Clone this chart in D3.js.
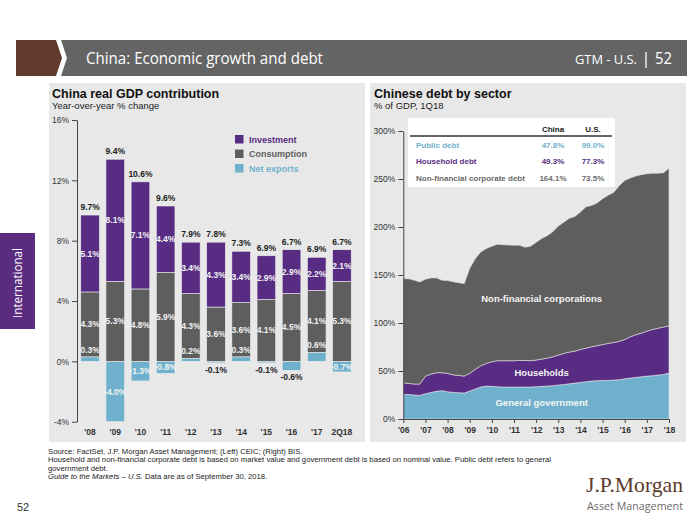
<!DOCTYPE html>
<html><head><meta charset="utf-8">
<script src="https://cdn.jsdelivr.net/npm/d3@7"></script>
<style>body{margin:0;background:#fff}svg{display:block}</style>
</head><body><svg id="c" width="700" height="525"></svg>
<script>
// ---------- Left chart data ----------
const gdpYears = ["'08","'09","'10","'11","'12","'13","'14","'15","'16","'17","2Q18"];
const investment = [5.1,8.1,7.1,4.4,3.4,4.3,3.4,2.9,2.9,2.2,2.1];
const consumption = [4.3,5.3,4.8,5.9,4.3,3.6,3.6,4.1,4.5,4.1,5.3];
const netExports = [0.3,-4.0,-1.3,-0.8,0.2,-0.1,0.3,-0.1,-0.6,0.6,-0.7];
const gdpTotals = ["9.7%","9.4%","10.6%","9.6%","7.9%","7.8%","7.3%","6.9%","6.7%","6.9%","6.7%"];
const gdpTicks = [-4,0,4,8,12,16];
const legendNames = ["Investment","Consumption","Net exports"];

// ---------- Right chart data (quarterly, 1Q06 - 1Q18, % of GDP) ----------
const debtStartYear = 2006;
const govDebt = [25.6,25.6,25.0,24.6,26.3,27.7,28.8,29.5,28.4,27.7,27.4,27.0,29.1,31.2,33.3,34.3,34.0,33.6,33.3,33.3,33.3,33.3,33.3,33.3,33.6,34.0,34.3,34.7,35.4,36.0,36.7,37.4,38.1,38.8,39.5,39.9,40.2,40.2,40.6,40.9,41.9,42.6,43.3,44.0,44.7,45.0,45.8,46.4,47.8];
const householdDebt = [12.2,11.4,11.4,11.8,18.2,19.1,19.4,18.7,19.1,18.3,18.0,17.7,18.4,20.4,22.2,23.6,25.6,27.1,27.4,27.4,27.4,27.7,27.7,27.4,27.8,28.4,29.1,30.1,31.2,32.3,33.0,33.3,34.3,35.0,35.7,36.4,37.4,38.5,39.1,39.9,40.9,43.0,44.4,45.4,46.8,48.2,48.8,49.3,49.3];
const corpDebt = [108.5,109.0,108.1,106.4,101.1,100.2,98.8,96.3,96.7,97.0,96.6,96.3,109.5,115.4,118.5,119.6,120.4,121.3,120.9,120.6,120.3,120.0,118.0,119.3,122.6,125.6,127.6,130.2,134.4,136.7,139.3,140.3,143.2,147.2,147.3,148.7,151.9,154.3,156.3,162.2,165.7,165.4,165.3,165.1,164.0,162.8,161.4,160.8,164.1];
const debtTicks = [0,50,100,150,200,250,300];
const debtYearTicks = [2006,2007,2008,2009,2010,2011,2012,2013,2014,2015,2016,2017,2018];
const sectorNames = ["General government","Households","Non-financial corporations"];
const tableRows = ["Public debt","Household debt","Non-financial corporate debt"];
const tableChina = ["47.8%","49.3%","164.1%"];
const tableUS = ["99.0%","77.3%","73.5%"];

const PURPLE = "#582c83", GRAY = "#5e5e5e", BLUE = "#6fb1cc", PANEL = "#e8e8e8";
const F = "'Liberation Sans', Arial, sans-serif";
const OS = "'Open Sans', 'Noto Sans', sans-serif";
const svg = d3.select("#c");

// ---------- Header ----------
svg.append("polygon").attr("points","16,40 56,40 62,58 56,76 16,76").attr("fill","#603b2b");
svg.append("polygon").attr("points","61,40 687,40 687,76 61,76 67,58").attr("fill","#646464");
svg.append("text").attr("x",86).attr("y",64).attr("fill","#fff").attr("font-family",OS).attr("font-size",17)
  .attr("textLength",237).attr("lengthAdjust","spacingAndGlyphs").text("China: Economic growth and debt");
svg.append("text").attr("x",575).attr("y",64).attr("fill","#fff").attr("font-family",OS).attr("font-size",12.5)
  .attr("textLength",62).attr("lengthAdjust","spacingAndGlyphs").text("GTM - U.S.");
svg.append("line").attr("x1",646).attr("x2",646).attr("y1",52).attr("y2",68).attr("stroke","#fff").attr("stroke-width",1.3);
svg.append("text").attr("x",655).attr("y",64).attr("fill","#fff").attr("font-family",OS).attr("font-size",16)
  .attr("textLength",17).attr("lengthAdjust","spacingAndGlyphs").text("52");

// Side tab
svg.append("rect").attr("x",0).attr("y",233).attr("width",35).attr("height",96).attr("fill","#5b2b80");
svg.append("text").attr("transform","translate(22,283) rotate(-90)").attr("text-anchor","middle")
  .attr("fill","#fff").attr("font-family",OS).attr("font-size",13).attr("textLength",70)
  .attr("lengthAdjust","spacingAndGlyphs").text("International");

// Panels
svg.append("rect").attr("x",49).attr("y",83).attr("width",316).attr("height",359).attr("fill",PANEL);
svg.append("rect").attr("x",370).attr("y",83).attr("width",316).attr("height",359).attr("fill",PANEL);

// ---------- Left chart ----------
svg.append("text").attr("x",52).attr("y",98).attr("font-family",F).attr("font-weight","bold").attr("font-size",12.5)
  .attr("fill","#111").text("China real GDP contribution");
svg.append("text").attr("x",52).attr("y",109).attr("font-family",F).attr("font-size",9.5)
  .attr("fill","#222").text("Year-over-year % change");

const yL = d3.scaleLinear().domain([-4,16]).range([421.7,120]);
const xL = d3.scaleBand().domain(gdpYears).range([77,355]).paddingInner(0.26).paddingOuter(0.15);
const bw = xL.bandwidth();

const gL = svg.append("g");
gdpYears.forEach((yr,i)=>{
  const ne = netExports[i], c = consumption[i], inv = investment[i];
  const base = Math.max(0,ne);
  const x = xL(yr);
  const segs = [
    {lo:Math.min(0,ne), hi:Math.max(0,ne), col:BLUE},
    {lo:base, hi:base+c, col:GRAY},
    {lo:base+c, hi:base+c+inv, col:PURPLE}
  ];
  segs.forEach(s=>{
    gL.append("rect").attr("x",x).attr("width",bw).attr("y",yL(s.hi)).attr("height",yL(s.lo)-yL(s.hi))
      .attr("fill",s.col).attr("stroke","#ededed").attr("stroke-width",0.6);
  });
  const lab = (txt,y,col)=>gL.append("text").attr("x",x+bw/2).attr("y",y).attr("text-anchor","middle")
    .attr("font-family",F).attr("font-weight","bold").attr("font-size",8.5).attr("fill",col).text(txt);
  const fmt = v=>v.toFixed(1)+"%";
  lab(fmt(inv), yL(base+c+inv/2)+3, "#f2f2f2");
  lab(fmt(c), yL(base+c/2)+3, "#f2f2f2");
  if (ne>0) lab(fmt(ne), yL(ne)-4, "#f2f2f2");
  else if (ne>-0.65) lab(fmt(ne), yL(ne)+10, "#222");
  else lab(fmt(ne), yL(ne/2)+3, "#f2f2f2");
  lab(gdpTotals[i], yL(base+c+inv)-5, "#222");
  gL.append("text").attr("x",x+bw/2).attr("y",435).attr("text-anchor","middle").attr("font-family",F)
    .attr("font-weight","bold").attr("font-size",8.5).attr("fill","#333").text(yr);
});

const axL = svg.append("g").attr("transform","translate(77,0)")
  .call(d3.axisLeft(yL).tickValues(gdpTicks).tickFormat(d=>d+"%").tickSize(5).tickSizeOuter(0));
axL.select(".domain").attr("stroke","#444");
axL.selectAll(".tick line").attr("stroke","#444");
axL.selectAll(".tick text").attr("font-family",F).attr("font-size",8.5).attr("fill","#333").attr("x",-8);

// Legend
const legCols = [PURPLE,GRAY,BLUE];
legendNames.forEach((n,i)=>{
  const y = 135 + i*14.5;
  svg.append("rect").attr("x",235).attr("y",y).attr("width",8.5).attr("height",8.5).attr("fill",legCols[i]);
  svg.append("text").attr("x",249).attr("y",y+7.5).attr("font-family",F).attr("font-weight","bold")
    .attr("font-size",9).attr("fill",legCols[i]).text(n);
});

// ---------- Right chart ----------
svg.append("text").attr("x",374).attr("y",98).attr("font-family",F).attr("font-weight","bold").attr("font-size",12.5)
  .attr("fill","#111").text("Chinese debt by sector");
svg.append("text").attr("x",374).attr("y",109).attr("font-family",F).attr("font-size",9.5)
  .attr("fill","#222").text("% of GDP, 1Q18");

const xR = d3.scaleLinear().domain([2006,2018]).range([403.3,669]);
const yR = d3.scaleLinear().domain([0,300]).range([419,131]);
const rows = govDebt.map((g,i)=>({t:debtStartYear+i/4, gov:g, hh:householdDebt[i], corp:corpDebt[i]}));
const stack = d3.stack().keys(["gov","hh","corp"])(rows);
const area = d3.area().x(d=>xR(d.data.t)).y0(d=>yR(d[0])).y1(d=>yR(d[1]));
const areaCols = [BLUE,PURPLE,GRAY];
svg.append("g").selectAll("path").data(stack).join("path").attr("d",area)
  .attr("fill",(d,i)=>areaCols[i]).attr("stroke","#e4e4e4").attr("stroke-width",0.6);

// area labels at the midpoint of each layer
const li = 25;
stack.forEach((s,i)=>{
  svg.append("text").attr("x",xR(rows[li].t)).attr("y",yR((s[li][0]+s[li][1])/2)+3.5)
    .attr("text-anchor","middle").attr("font-family",F).attr("font-weight","bold").attr("font-size",9.5)
    .attr("fill","#f4f4f4").text(sectorNames[i]);
});

const axRy = svg.append("g").attr("transform","translate(403.3,0)")
  .call(d3.axisLeft(yR).tickValues(debtTicks).tickFormat(d=>d+"%").tickSize(5).tickSizeOuter(0));
const axRx = svg.append("g").attr("transform","translate(0,419)")
  .call(d3.axisBottom(xR).tickValues(debtYearTicks).tickFormat(d=>"'"+String(d).slice(2)).tickSize(4).tickSizeOuter(0));
[axRy,axRx].forEach(a=>{
  a.select(".domain").attr("stroke","#444");
  a.selectAll(".tick line").attr("stroke","#444");
  a.selectAll(".tick text").attr("font-family",F).attr("font-size",8.5).attr("fill","#333");
});
axRy.selectAll(".tick text").attr("x",-8);
axRx.selectAll(".tick text").attr("font-weight","bold").attr("y",8);

// Table
svg.append("rect").attr("x",408).attr("y",118).attr("width",207).attr("height",69).attr("fill","#fff");
svg.append("text").attr("x",553).attr("y",132).attr("text-anchor","middle").attr("font-family",F).attr("font-weight","bold")
  .attr("font-size",8).attr("fill","#222").text("China");
svg.append("text").attr("x",593).attr("y",132).attr("text-anchor","middle").attr("font-family",F).attr("font-weight","bold")
  .attr("font-size",8).attr("fill","#222").text("U.S.");
svg.append("line").attr("x1",410).attr("x2",612).attr("y1",136).attr("y2",136).attr("stroke","#333").attr("stroke-width",1.5);
const rowCols = [BLUE,PURPLE,"#6a6a6a"];
tableRows.forEach((r,i)=>{
  const y = 147.5 + i*16.8;
  svg.append("text").attr("x",416).attr("y",y).attr("font-family",F).attr("font-weight","bold").attr("font-size",8)
    .attr("fill",rowCols[i]).text(r);
  svg.append("text").attr("x",553).attr("y",y).attr("text-anchor","middle").attr("font-family",F).attr("font-weight","bold")
    .attr("font-size",8).attr("fill",rowCols[i]).text(tableChina[i]);
  svg.append("text").attr("x",593).attr("y",y).attr("text-anchor","middle").attr("font-family",F).attr("font-weight","bold")
    .attr("font-size",8).attr("fill",rowCols[i]).text(tableUS[i]);
});

// ---------- Footer ----------
const foot = [
  "Source: FactSet, J.P. Morgan Asset Management; (Left) CEIC; (Right) BIS.",
  "Household and non-financial corporate debt is based on market value and government debt is based on nominal value. Public debt refers to general",
  "government debt."
];
foot.forEach((t,i)=>svg.append("text").attr("x",48).attr("y",454+i*8.4).attr("font-family",F).attr("font-size",7.7)
  .attr("fill","#222").text(t));
const g4 = svg.append("text").attr("x",48).attr("y",454+3*8.4).attr("font-family",F).attr("font-size",7.7).attr("fill","#222");
g4.append("tspan").attr("font-style","italic").text("Guide to the Markets – U.S.");
g4.append("tspan").text(" Data are as of September 30, 2018.");

svg.append("text").attr("x",17).attr("y",511).attr("font-family",F).attr("font-size",11).attr("fill","#333").text("52");
svg.append("text").attr("x",586).attr("y",492).attr("font-family","'Liberation Serif', 'DejaVu Serif', serif")
  .attr("font-size",22).attr("fill","#5c3a2a").attr("textLength",97).attr("lengthAdjust","spacingAndGlyphs").text("J.P.Morgan");
svg.append("text").attr("x",587).attr("y",510).attr("font-family",OS).attr("font-size",11.5).attr("fill","#6a6a6a")
  .attr("textLength",96).attr("lengthAdjust","spacingAndGlyphs").text("Asset Management");
</script></body></html>
